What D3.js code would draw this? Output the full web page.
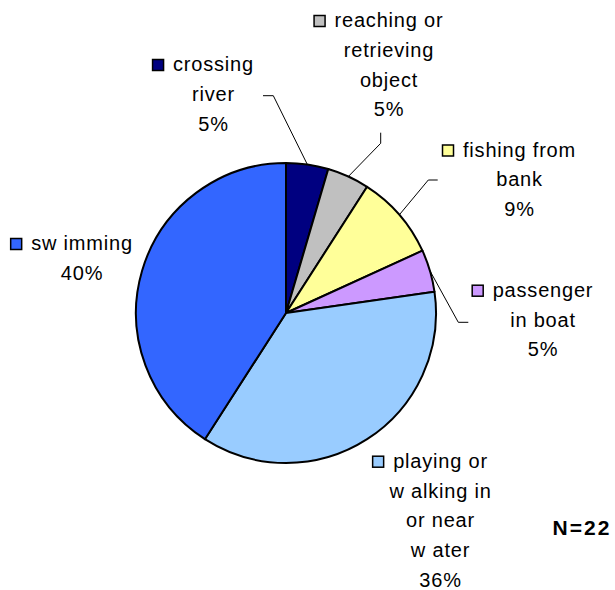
<!DOCTYPE html>
<html>
<head>
<meta charset="utf-8">
<script src="https://cdn.jsdelivr.net/npm/d3@7"></script>
<style>
  body { margin: 0; background: #fff; }
  svg text { font-family: "Liberation Sans", Arial, sans-serif; fill: #000; }
</style>
</head>
<body>
<svg id="chart" width="615" height="590"></svg>
<script>
// data: counts per activity (N=22), in drawing order clockwise from 12 o'clock
const categories = ["crossing river", "reaching or retrieving object", "fishing from bank",
                    "passenger in boat", "playing or walking in or near water", "swimming"];
const counts = [1, 1, 2, 1, 8, 9];
const pctLabels = ["5%", "5%", "9%", "5%", "36%", "40%"];
// label lines as shown on the chart (wrapped text)
const labelLines = [
    ["crossing", "river"],
    ["reaching or", "retrieving", "object"],
    ["fishing from", "bank"],
    ["passenger", "in boat"],
    ["playing or", "w alking in", "or near", "w ater"],
    ["sw imming"]
];
const colors = ["#000080", "#C0C0C0", "#FFFF99", "#CC99FF", "#99CCFF", "#3366FF"];
const totalLabel = "N=22";

const svg = d3.select("#chart");
const cx = 286, cy = 313, radius = 150;
const lineGap = 29.8;

// label placement: center x, first baseline y, leader elbow (null = no leader)
const labelPos = [
    { x: 213.5, y: 71,   elbow: [[263, 95.7], [273.3, 95.7]] },
    { x: 389,   y: 27,   elbow: [[380.7, 132.7], [380.7, 143.3]] },
    { x: 519.5, y: 156.5, elbow: [[437.7, 180], [428.3, 180]] },
    { x: 543,   y: 296.7, elbow: [[468.3, 322.3], [458.3, 322.3]] },
    { x: 440.5, y: 467.7, elbow: null },
    { x: 82,    y: 250,  elbow: null }
];

const pie = d3.pie().sort(null).value(d => d);
const arcs = pie(counts);
const arc = d3.arc().innerRadius(0).outerRadius(radius);

const g = svg.append("g").attr("transform", `translate(${cx},${cy})`);

g.selectAll("path.slice")
    .data(arcs)
    .enter()
    .append("path")
    .attr("class", "slice")
    .attr("d", arc)
    .attr("fill", (d, i) => colors[i])
    .attr("stroke", "#000")
    .attr("stroke-width", 2)
    .attr("stroke-linejoin", "round");

// leader lines from label elbow to slice edge
arcs.forEach((a, i) => {
    const p = labelPos[i];
    if (!p.elbow) return;
    const mid = (a.startAngle + a.endAngle) / 2;
    const edge = [cx + radius * Math.sin(mid), cy - radius * Math.cos(mid)];
    svg.append("path")
        .attr("d", d3.line()([p.elbow[0], p.elbow[1], edge]))
        .attr("fill", "none")
        .attr("stroke", "#000")
        .attr("stroke-width", 1);
});

// labels
categories.forEach((c, i) => {
    const p = labelPos[i];
    const lines = labelLines[i].concat([pctLabels[i]]);
    const t = svg.append("g");
    lines.forEach((ln, j) => {
        t.append("text")
            .attr("x", p.x)
            .attr("y", p.y + j * lineGap)
            .attr("text-anchor", "middle")
            .attr("font-size", 20)
            .attr("letter-spacing", 0.8)
            .text(ln);
    });
    // legend key left of first line
    const first = t.select("text").node();
    const bb = first.getBBox();
    t.append("rect")
        .attr("x", bb.x - 8.5 - 12)
        .attr("y", p.y - 11.5)
        .attr("width", 11)
        .attr("height", 11)
        .attr("fill", colors[i])
        .attr("stroke", "#000")
        .attr("stroke-width", 1.5);
});

svg.append("text")
    .attr("x", 582)
    .attr("y", 535)
    .attr("text-anchor", "middle")
    .attr("font-size", 21)
    .attr("font-weight", "bold")
    .attr("letter-spacing", 2)
    .text(totalLabel);
</script>
</body>
</html>
